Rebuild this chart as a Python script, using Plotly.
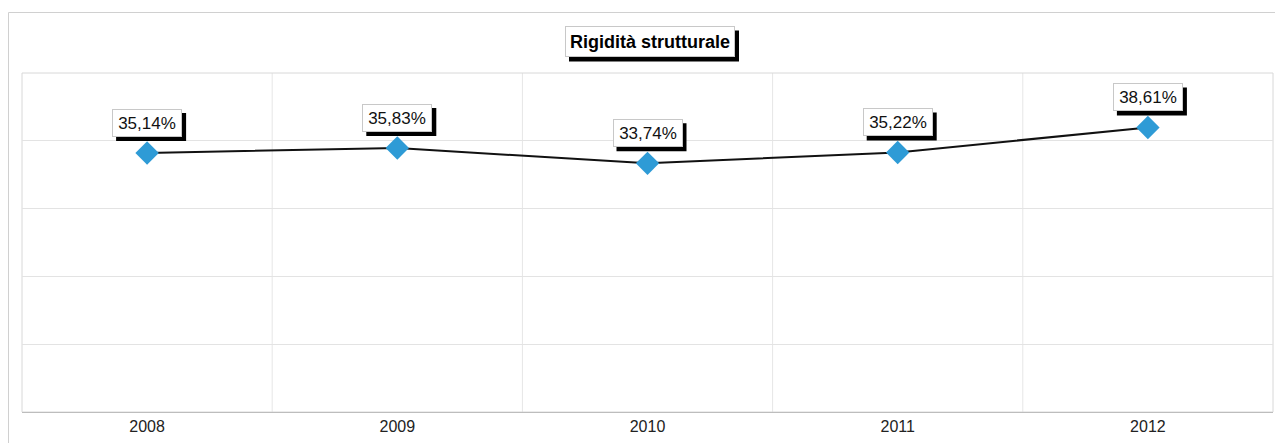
import plotly.graph_objects as go

years = ["2008", "2009", "2010", "2011", "2012"]
values = [35.14, 35.83, 33.74, 35.22, 38.61]
labels = ["35,14%", "35,83%", "33,74%", "35,22%", "38,61%"]
title_text = "Rigidità strutturale"

x_idx = list(range(len(years)))

# page body has an 8px margin, so the figure is drawn 8px smaller
OFF = 8
W, H = 1283 - OFF, 443 - OFF
ml, mr, mt, mb = 22 - OFF, 10, 73 - OFF, 31
pw = W - ml - mr
ph = H - mt - mb

def px_x(px):
    return (px - OFF - ml) / pw

def px_y(py):
    return (H - mb - (py - OFF)) / ph

FONT = "Arial, Liberation Sans, sans-serif"

fig = go.Figure()
fig.add_trace(go.Scatter(
    x=x_idx, y=values, mode="lines+markers",
    line=dict(color="#111111", width=2),
    marker=dict(symbol="diamond", size=18, color="#2E9BD6", line=dict(width=0)),
    hoverinfo="skip", showlegend=False,
))

# label box geometry (pixels)
LW, LH, LPAD = 62, 20, 3
BOXW = LW + 2 * LPAD + 2
BOXH = LH + 2 * LPAD + 2
LY = 30   # label centre above the point
SH = 4    # shadow offset

annotations = []
shapes = []
for xi, v, lab in zip(x_idx, values, labels):
    shapes.append(dict(type="rect", xref="x", yref="y", xsizemode="pixel", ysizemode="pixel",
                       xanchor=xi, yanchor=v,
                       x0=-BOXW / 2 + SH, x1=BOXW / 2 + SH,
                       y0=LY - BOXH / 2 - SH, y1=LY + BOXH / 2 - SH,
                       fillcolor="black", line=dict(width=0), layer="above"))
    annotations.append(dict(x=xi, y=v, xref="x", yref="y", text=lab, showarrow=False,
                            font=dict(family=FONT, size=17, color="#111111"),
                            width=LW, height=LH, align="center",
                            bgcolor="white", borderpad=LPAD, borderwidth=1, bordercolor="#c8c8c8",
                            yshift=LY))

TW, TH, TPAD = 160, 21, 4
TBW = TW + 2 * TPAD + 2
TBH = TH + 2 * TPAD + 2
tx, ty = px_x(650), px_y(42)
shapes.append(dict(type="rect", xref="paper", yref="paper", xsizemode="pixel", ysizemode="pixel",
                   xanchor=tx, yanchor=ty,
                   x0=-TBW / 2 + SH, x1=TBW / 2 + SH, y0=-TBH / 2 - SH, y1=TBH / 2 - SH,
                   fillcolor="black", line=dict(width=0), layer="above"))
annotations.append(dict(x=tx, y=ty, xref="paper", yref="paper", text="<b>" + title_text + "</b>",
                        xanchor="center", yanchor="middle",
                        showarrow=False, font=dict(family=FONT, size=18, color="black"),
                        width=TW, height=TH,
                        bgcolor="white", borderpad=TPAD, borderwidth=1, bordercolor="#c8c8c8"))

shapes.append(dict(type="rect", xref="paper", yref="paper",
                   x0=px_x(8.5), x1=px_x(1279.5), y0=px_y(445), y1=px_y(12.5),
                   line=dict(color="#d0d0d0", width=1), fillcolor="rgba(0,0,0,0)", layer="below"))
for b in [0.5, 1.5, 2.5, 3.5]:
    shapes.append(dict(type="line", xref="x", yref="paper", x0=b, x1=b, y0=0, y1=1,
                       line=dict(color="#e6e6e6", width=1), layer="below"))
shapes.append(dict(type="rect", xref="paper", yref="paper", x0=0, x1=1, y0=0, y1=1,
                   line=dict(color="#d8d8d8", width=1), layer="below"))

ymax = 46.0
fig.update_layout(
    width=W, height=H,
    margin=dict(l=ml, r=mr, t=mt, b=mb),
    paper_bgcolor="white", plot_bgcolor="white",
    xaxis=dict(range=[-0.5, 4.5], tickvals=x_idx, ticktext=years, showgrid=False,
               zeroline=False, showline=True, linecolor="#bdbdbd", linewidth=1,
               tickfont=dict(family=FONT, size=16, color="#222222"),
               ticks="", fixedrange=True, automargin=False),
    yaxis=dict(range=[0, ymax], tickvals=[ymax * i / 5 for i in range(6)], showticklabels=False,
               showgrid=True, gridcolor="#e3e3e3", gridwidth=1, zeroline=False, ticks="",
               fixedrange=True, automargin=False),
    annotations=annotations, shapes=shapes,
)

fig.write_html("out.html")
